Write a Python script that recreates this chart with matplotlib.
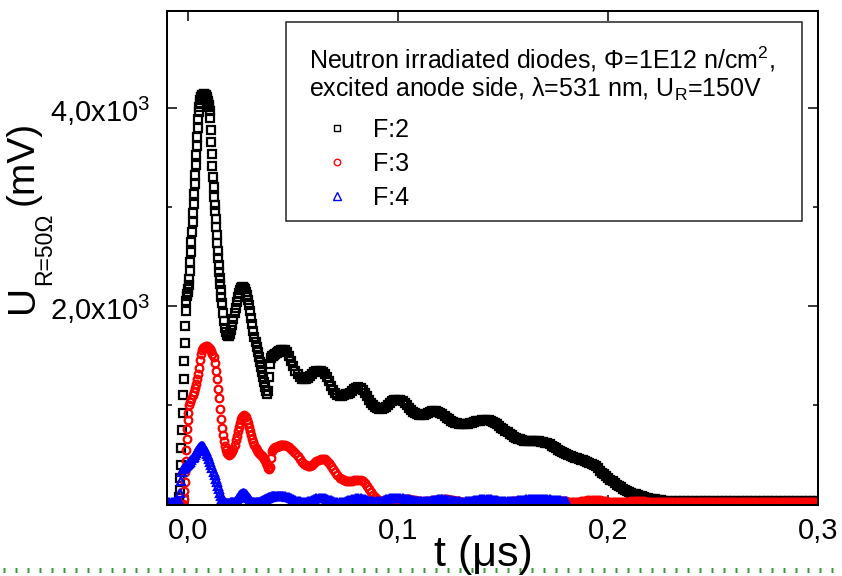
import numpy as np
import matplotlib
matplotlib.use("Agg")
import matplotlib.pyplot as plt
from matplotlib.lines import Line2D
from matplotlib.patches import Rectangle

plt.rcParams['font.family'] = ['Liberation Sans', 'DejaVu Sans']
plt.rcParams['mathtext.fontset'] = 'custom'
plt.rcParams['mathtext.rm'] = 'Liberation Sans'
plt.rcParams['mathtext.it'] = 'Liberation Sans:italic'
plt.rcParams['mathtext.bf'] = 'Liberation Sans:bold'

# ---------------- data (t in us, U in mV) ----------------
# each segment: (start time, sampling step, values)
f2_base = (-0.010, 0.001, [0, 0, 0, 0, 0, 0])
f2_peak = (-0.0045, 0.00025, [
    20, 80, 150, 270, 400, 570, 750, 920, 1100, 1270, 1450, 1630, 1800, 1950,
    2050, 2100, 2120, 2140, 2170, 2220, 2280, 2360, 2450, 2550, 2650, 2750,
    2850, 2940, 3030, 3130, 3230, 3330, 3430, 3530, 3620, 3710, 3800, 3890,
    3960, 4010, 4050, 4080, 4100, 4115, 4125, 4132, 4136, 4138, 4138, 4136,
    4134, 4128, 4120, 4110, 4095, 4075, 4055, 4035, 4010, 3975, 3900, 3780,
    3660, 3540, 3420, 3300, 3200, 3100, 3020, 2960, 2880, 2800, 2720, 2640,
    2560, 2490, 2420, 2350, 2290, 2230, 2160, 2090, 2030])
f2_osc = (0.0165, 0.0005, [
    1935, 1850, 1785, 1740, 1712, 1700, 1705, 1725, 1765, 1815, 1870, 1930,
    1985, 2040, 2090, 2130, 2160, 2180, 2190, 2192, 2185, 2170, 2145, 2110,
    2065, 2010, 1950, 1885, 1820, 1755, 1695, 1640, 1590, 1540, 1490, 1440,
    1390, 1340, 1290, 1240, 1190, 1150, 1120, 1150, 1290, 1420, 1480, 1495,
    1500, 1505, 1515, 1525, 1535, 1545, 1552, 1557, 1560, 1561])
f2_decay = (0.046, 0.001, [
    1555, 1535, 1495, 1445, 1395, 1350, 1312, 1287, 1270, 1262,
    1263, 1275, 1295, 1315, 1333, 1345, 1351, 1352, 1342, 1318,
    1283, 1242, 1198, 1157, 1122, 1101, 1091, 1093, 1104, 1112,
    1116, 1126, 1146, 1166, 1179, 1183, 1176, 1156, 1126, 1091,
    1056, 1026, 1001, 985, 973, 967, 966, 971, 986, 1006,
    1025, 1040, 1050, 1055, 1057, 1055, 1045, 1025, 1000, 975,
    952, 935, 921, 911, 905, 904, 908, 915, 925, 935,
    942, 946, 945, 938, 925, 910, 893, 876, 860, 847,
    836, 827, 820, 815, 812, 810, 810, 812, 818, 825,
    832, 838, 843, 847, 849, 850, 850, 848, 843, 835,
    823, 808, 792, 775, 758, 742, 727, 712, 698, 686,
    675, 665, 657, 650, 645, 642, 640, 639, 638, 638,
    637, 636, 634, 630, 625, 617, 606, 593, 580, 566,
    553, 541, 529, 518, 507, 497, 488, 480, 472, 465,
    458, 452, 446, 440, 432, 423, 412, 400, 385, 365,
    343, 322, 303, 285, 268, 250, 233, 217, 201, 186,
    172, 160, 148, 137, 127, 118, 110, 102, 95, 88,
    82, 76, 70, 65, 60, 55, 51, 47, 44, 41, 39])
f2_tail = (0.228, 0.002, [
    38, 36, 35, 34, 35, 37, 39, 40, 40, 38, 36, 34, 33, 33, 34, 36, 38, 40,
    40, 39, 37, 35, 34, 33, 33, 34, 35, 37, 38, 38, 37, 36, 35, 34, 33, 33, 34])

f3_base = (-0.010, 0.001, [0, 0, 0, 0, 0, 0, 0, 0])
f3_rise = (-0.0025, 0.00025, [10, 60, 140, 230, 330, 440, 550, 660, 760, 850, 920])
f3_osc = (0.0005, 0.0005, [
    1000, 1030, 1060, 1100, 1140, 1180, 1220, 1265, 1320, 1380, 1460, 1520,
    1555, 1575, 1588, 1594, 1596, 1595, 1590, 1580, 1565, 1545, 1520, 1490,
    1430, 1350, 1265, 1170, 1070, 960, 860, 770, 700, 640, 590, 550,
    522, 507, 502, 506, 518, 538, 565, 600, 650, 695, 740, 785,
    825, 858, 882, 896, 900, 895, 880, 855, 820, 780, 740, 700,
    662, 628, 598, 572, 550, 532, 517, 505, 495, 485, 475, 462,
    445, 422, 395, 368, 355, 380, 470, 540, 565, 575, 580, 584,
    588, 592, 596, 599, 600, 600])
f3_decay = (0.046, 0.001, [
    598, 592, 580, 562, 540, 515, 487, 458, 430, 408,
    395, 390, 392, 402, 418, 436, 451, 460, 462, 455,
    440, 418, 390, 358, 325, 296, 272, 255, 244, 239,
    237, 237, 239, 243, 246, 248, 246, 236, 215, 188,
    158, 128, 100, 75, 55, 40, 32, 28, 27, 28,
    32, 38, 44, 48, 50])
f3_tail = (0.101, 0.001, [
    51, 52, 53, 54, 52, 50, 46, 42, 38, 34,
    32, 30, 31, 32, 35, 38, 41, 45, 48, 50,
    51, 52, 51, 50, 47, 44, 40, 36, 33, 30,
    29, 28, 29, 30, 32, 35, 37, 40, 42, 43,
    43, 42, 40, 38, 35, 33, 31, 29, 28, 27,
    27, 28, 29, 31, 33, 35, 37, 38, 38, 38,
    37, 35, 33, 31, 29, 28, 27, 27, 27, 28,
    29, 31, 33, 34, 35, 35, 35, 34, 33, 31,
    29, 28, 27, 27, 28, 30, 33, 36, 39, 42,
    44, 46, 46, 46, 44, 42, 39, 36, 33, 30,
    28, 26, 25, 24, 24, 24, 25, 26, 27, 29,
    31, 32, 33, 33, 33, 32, 31, 29, 27, 26,
    25, 24, 23, 23, 23, 24, 25, 26, 27, 28,
    29, 29, 29, 28, 27, 26, 25, 24, 23, 22,
    22, 22, 22, 23, 24, 25, 26, 27, 28, 28,
    28, 27, 26, 25, 24, 23, 22, 22, 22, 22,
    22, 23, 24, 25, 26, 27, 28, 28, 28, 28,
    27, 26, 25, 24, 23, 22, 21, 21, 21, 22,
    23, 24, 25, 26, 27, 27, 27, 27, 27, 26,
    25, 24, 23, 22, 21, 21, 21, 22, 23, 24])

f4_base = (-0.010, 0.001, [30, 30, 30, 30, 30, 30])
f4_osc = (-0.0045, 0.0005, [
    35, 120, 240, 330, 360, 372, 380, 388, 396, 405, 418, 432, 448, 465,
    482, 500, 518, 535, 552, 566, 576, 586, 590, 586, 570, 555, 535, 512,
    487, 460, 430, 398, 364, 330, 295, 260, 225, 190, 155, 120, 88, 60,
    40, 28, 22, 20, 20, 20, 20, 20, 21, 22, 25, 30, 38, 50, 65, 78,
    92, 103, 109, 112, 112, 108, 101, 90, 76, 61, 47, 38, 30, 25,
    22, 21, 21, 22, 24, 27, 31, 36, 42, 48, 54, 60, 65, 70,
    74, 77, 80, 82, 84, 86, 88, 89, 90, 90, 90, 89, 88, 86])
f4_decay = (0.046, 0.001, [
    84, 80, 74, 66, 57, 48, 40, 34, 30, 29,
    30, 34, 40, 48, 56, 63, 68, 70, 69, 65,
    58, 50, 42, 35, 30, 27, 26, 27, 30, 35,
    41, 47, 53, 58, 61, 62, 61, 57, 51, 45,
    39, 34, 31, 30, 31, 34, 39, 45, 51, 57,
    62, 66, 68, 69, 68])
f4_tail = (0.101, 0.001, [
    66, 64, 60, 56, 52, 47, 43, 39, 36, 34,
    33, 33, 35, 37, 40, 44, 47, 50, 52, 53,
    52, 51, 48, 45, 41, 38, 35, 33, 31, 30,
    30, 31, 33, 36, 39, 43, 47, 50, 53, 55,
    56, 56, 54, 52, 48, 45, 41, 38, 35, 33,
    32, 31, 32, 33, 35, 38, 41, 44, 47, 49,
    51, 52, 53, 53, 53, 53, 53, 52, 52, 52,
    52, 51, 50, 49, 47, 45, 43, 40, 38, 35])

series_labels = ['F:2', 'F:3', 'F:4']
x_ticks = [0.0, 0.1, 0.2, 0.3]
x_tick_labels = ['0,0', '0,1', '0,2', '0,3']
y_ticks = [2000, 4000]
y_tick_labels = [r'2,0x10$^{\mathregular{3}}$', r'4,0x10$^{\mathregular{3}}$']
y_minor_ticks = [1000, 3000]


def build(*segs):
    t, v = [], []
    for t0, dt, vals in segs:
        t.extend(t0 + dt * np.arange(len(vals)))
        v.extend(vals)
    return np.array(t), np.array(v, dtype=float)


t2, u2 = build(f2_base, f2_peak, f2_osc, f2_decay, f2_tail)
t3, u3 = build(f3_base, f3_rise, f3_osc, f3_decay, f3_tail)
t4, u4 = build(f4_base, f4_osc, f4_decay, f4_tail)

# ---------------- figure ----------------
W, H = 842, 576
fig = plt.figure(figsize=(W / 100, H / 100), dpi=100)


def fx(x):
    return x / W


def fy(y):
    return 1 - y / H


ax = fig.add_axes([fx(167.3), fy(504.5), (818.3 - 167.3) / W, (504.5 - 11) / H])

mk = dict(ls='none', mfc='none', mew=1.6)
l2, = ax.plot(t2, u2, marker='s', ms=5.5, mec='black', **mk)
l3, = ax.plot(t3, u3, marker='o', ms=5.5, mec='#ff0000', **mk)
l4, = ax.plot(t4, u4, marker='^', ms=6, mec='#0000ff', **mk)

ax.set_xlim(-0.01, 0.3)
ax.set_ylim(0, 4980)
ax.set_xticks(x_ticks)
ax.set_xticklabels(x_tick_labels)
ax.set_yticks(y_ticks)
ax.set_yticklabels(y_tick_labels)
ax.set_yticks(y_minor_ticks, minor=True)
ax.tick_params(which='both', direction='in', top=True, right=True, width=1.1,
               labelsize=21, colors='black')
ax.tick_params(which='major', length=7.2)
ax.tick_params(which='minor', length=3.6)
ax.tick_params(axis='x', pad=9.0)
ax.tick_params(axis='y', pad=12.5)
for s in ax.spines.values():
    s.set_linewidth(1.45)

# y axis title (pieces to reproduce the large subscript)
fig.text(fx(33), fy(313), 'U', rotation=90, rotation_mode='anchor', ha='left',
         va='baseline', fontsize=28)
fig.text(fx(51), fy(285), 'R=50Ω', rotation=90, rotation_mode='anchor', ha='left',
         va='baseline', fontsize=16.5)
fig.text(fx(33), fy(205), '(mV)', rotation=90, rotation_mode='anchor', ha='left',
         va='baseline', fontsize=28)
# x axis title
fig.text(fx(483), fy(566), 't (μs)', ha='center', va='baseline', fontsize=31)

# legend box with two-line title (box drawn inside the axes, beneath the legend)
box = Rectangle((fx(286), fy(221)), (802 - 286) / W, (221 - 22) / H,
                transform=fig.transFigure, facecolor='white',
                edgecolor='#222222', lw=1.1, zorder=5, clip_on=False)
ax.add_patch(box)
fig.text(fx(309), fy(69), r'Neutron irradiated diodes, Φ=1E12 n/cm$^{\mathregular{2}}$,',
         ha='left', va='baseline', fontsize=18, zorder=6)
fig.text(fx(309), fy(97), r'excited anode side, λ=531 nm, U$_{\mathregular{R}}$=150V',
         ha='left', va='baseline', fontsize=18, zorder=6)
leg = ax.legend([l2, l3, l4], series_labels, loc='upper left',
                bbox_to_anchor=(fx(309), fy(118)), bbox_transform=fig.transFigure,
                frameon=False, borderpad=0, borderaxespad=0, handlelength=2.24,
                handletextpad=0.32, labelspacing=0.4, fontsize=18, numpoints=1,
                markerscale=0.85)
leg.set_zorder(7)
for h in leg.legend_handles:
    h.set_markeredgewidth(1.0)

# green dotted rule at the bottom of the page
fig.add_artist(Line2D([0.003, 1.0], [fy(570), fy(570)], transform=fig.transFigure,
                      color='#3a9a3a', lw=3.6, linestyle=(0, (0.4, 2.0)),
                      dash_capstyle='butt'))

fig.savefig('out.png', dpi=100)
